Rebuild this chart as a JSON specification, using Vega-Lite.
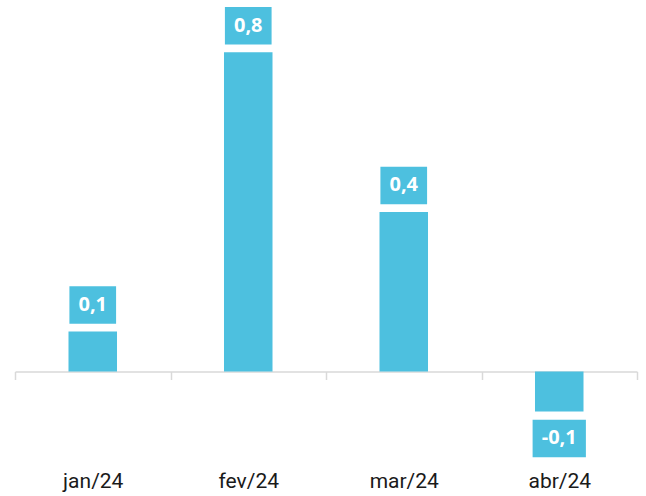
{
  "$schema": "https://vega.github.io/schema/vega-lite/v6.json",
  "autosize": "none",
  "padding": {"left": 15, "top": 0, "right": 9, "bottom": 124.5},
  "width": 622,
  "height": 371.5,
  "background": "white",
  "config": {
    "view": {"stroke": null},
    "locale": {
      "number": {"decimal": ",", "thousands": ".", "grouping": [3], "currency": ["R$", ""], "minus": "-"}
    }
  },
  "data": {
    "values": [
      {"mes": "jan/24", "v": 0.1},
      {"mes": "fev/24", "v": 0.8},
      {"mes": "mar/24", "v": 0.4},
      {"mes": "abr/24", "v": -0.1}
    ]
  },
  "encoding": {
    "x": {
      "field": "mes",
      "type": "nominal",
      "sort": null,
      "scale": {"paddingInner": 0, "paddingOuter": 0},
      "axis": {
        "title": null,
        "labelAngle": 0,
        "labelFont": "Roboto",
        "labelFontSize": 21,
        "labelColor": "#1a1a1a",
        "labelPadding": 91,
        "tickBand": "extent",
        "tickSize": 8,
        "tickColor": "#d9d9d9",
        "tickWidth": 1.5,
        "domainColor": "#d9d9d9",
        "domainWidth": 1.5
      }
    },
    "y": {
      "field": "v",
      "type": "quantitative",
      "scale": {"domain": [0, 0.931], "nice": false, "zero": false},
      "axis": null
    }
  },
  "layer": [
    {
      "mark": {"type": "bar", "width": {"band": 0.312}, "color": "#4DC0DF"}
    },
    {
      "mark": {"type": "point", "filled": true, "opacity": 1, "color": "#4DC0DF", "strokeWidth": 0, "size": 1406},
      "encoding": {
        "shape": {
          "condition": {"test": "datum.v < 0", "value": "M-1.421,0.44L1.421,0.44L1.421,2.44L-1.421,2.44Z"},
          "value": "M-1.245,-2.413L1.245,-2.413L1.245,-0.413L-1.245,-0.413Z"
        }
      }
    },
    {
      "transform": [{"filter": "datum.v >= 0"}],
      "mark": {"type": "text", "dy": -26.5, "baseline": "middle", "font": "Open Sans", "fontWeight": "bold", "fontSize": 20, "color": "white"},
      "encoding": {"text": {"field": "v", "type": "quantitative", "format": ".1f"}}
    },
    {
      "transform": [{"filter": "datum.v < 0"}],
      "mark": {"type": "text", "dy": 27, "baseline": "middle", "font": "Open Sans", "fontWeight": "bold", "fontSize": 20, "color": "white"},
      "encoding": {"text": {"field": "v", "type": "quantitative", "format": ".1f"}}
    }
  ]
}
